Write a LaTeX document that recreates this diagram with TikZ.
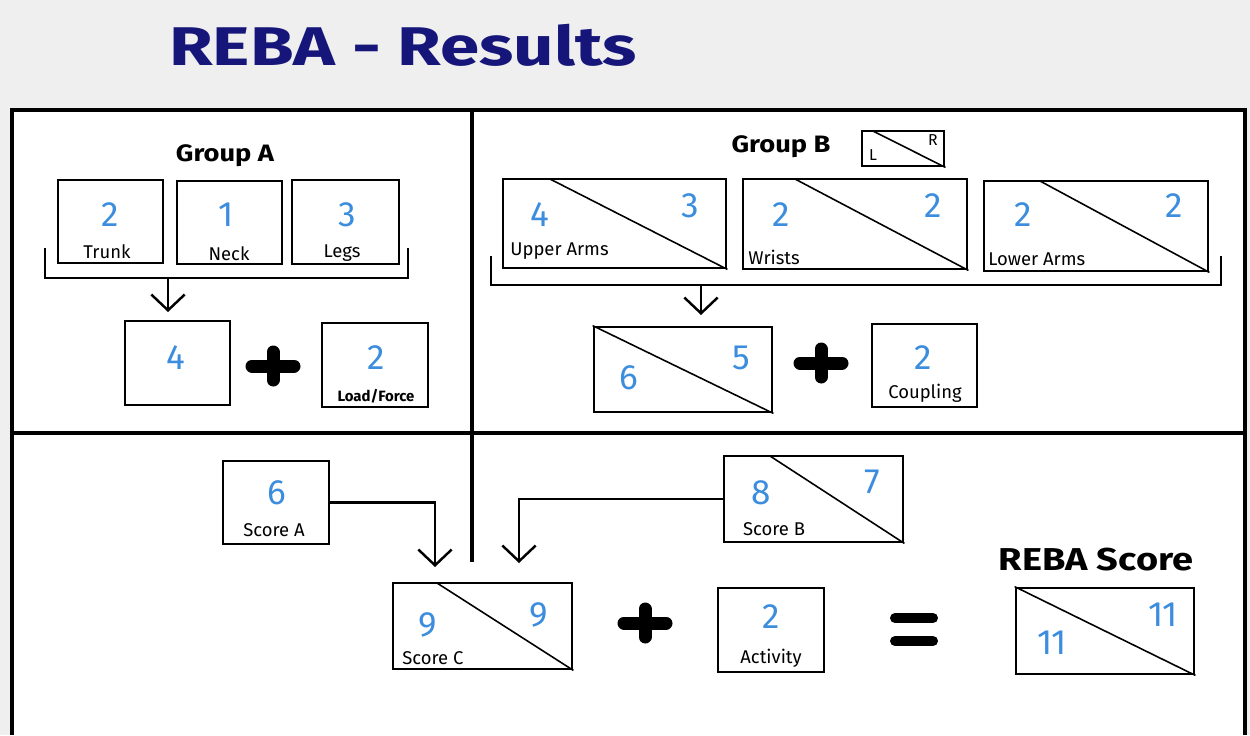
\documentclass[tikz,border=0pt]{standalone}
\usepackage{fontspec}
\setmainfont{Fira Sans}
\usetikzlibrary{arrows.meta,fit}
\definecolor{bgc}{HTML}{EFEFEF}
\definecolor{numc}{HTML}{3C8DDE}
\definecolor{navy}{HTML}{16167A}
\begin{document}
\begin{tikzpicture}[x=0.02cm,y=-0.02cm,
 box/.style={draw, line width=1.6pt, inner sep=0pt},
 num/.style={text=numc, font=\fontsize{20}{24}\selectfont, inner sep=0pt},
 lbl/.style={font=\fontsize{10.5}{12}\selectfont, inner sep=0pt},
 small/.style={font=\bfseries\fontsize{8.5}{10}\selectfont, inner sep=0pt},
 diag/.style={line width=0.9pt},
 frame/.style={line width=2.8pt},
 plusbar/.style={line width=7.4pt, line cap=round},
 arr/.style={line width=1.4pt, -{Straight Barb[length=9pt,width=19pt]}},
 brk/.style={line width=1.6pt},
 head/.style={font=\bfseries\fontsize{13.5}{15}\selectfont, inner sep=0pt, xscale=1.15, transform shape}]
\useasboundingbox (0,0) rectangle (1250,735);
\fill[bgc] (0,0) rectangle (1250,735);
\fill[white] (12,110) rectangle (1245,735);
\draw[frame] (12,735) -- (12,110) -- (1245,110) -- (1245,735);
\draw[frame] (12,433) -- (1245,433);
\draw[frame] (472,110) -- (472,562);

\node[font=\bfseries\fontsize{31}{36}\selectfont, text=navy, xscale=1.3, transform shape] (title) at (403,45) {REBA - Results};

% Group A
\node[head] (ga) at (225,156) {Group A};
\node[box, fit={(58,180)(163,263)}] (trunk) {};
\node[num] (trunkn) at (110,215) {2};
\node[lbl] (trunkl) at (107,252) {Trunk};
\node[box, fit={(177,181)(282,264)}] (neck) {};
\node[num] (neckn) at (226,215) {1};
\node[lbl] (neckl) at (229,254) {Neck};
\node[box, fit={(292,180)(399,264)}] (legs) {};
\node[num] (legsn) at (347,215) {3};
\node[lbl] (legsl) at (342,253) {Legs};
\coordinate (bA1) at (45,248); \coordinate (bA2) at (45,278);
\coordinate (bA3) at (408,278); \coordinate (bA4) at (408,248);
\draw[brk] (bA1) -- (bA2) -- (bA3) -- (bA4);
\coordinate (bAm) at (168,278); \coordinate (aA) at (168,312);
\draw[arr] (bAm) -- (aA);
\node[box, fit={(125,321)(230,405)}] (sumA) {};
\node[num] (sumAn) at (176,358) {4};
\draw[plusbar] (252,366) -- (294,366) (273,352) -- (273,380);
\node[box, fit={(322,323)(428,407)}] (load) {};
\node[num] (loadn) at (376,358) {2};
\node[small] (loadl) at (376,396) {Load/Force};

% Group B
\node[head] (gb) at (781,147) {Group B};
\node[box, fit={(862,131)(944,166)}] (lr) {};
\draw[diag] (873,131) -- (lr.south east);
\node[small, font=\fontsize{9}{10}\selectfont] (lrl) at (873,155) {L};
\node[small, font=\fontsize{9}{10}\selectfont] (lrr) at (933,140) {R};

\node[box, fit={(503,179)(726,268)}] (ua) {};
\draw[diag] (550,179) -- (ua.south east);
\node[num] (uan1) at (540,215) {4};
\node[num] (uan2) at (690,206) {3};
\node[lbl, anchor=west] (ual) at (510,251) {Upper Arms};

\node[box, fit={(743,179)(967,269)}] (wr) {};
\draw[diag] (795,179) -- (wr.south east);
\node[num] (wrn1) at (781,215) {2};
\node[num] (wrn2) at (933,206) {2};
\node[lbl, anchor=west] (wrl) at (748,257) {Wrists};

\node[box, fit={(984,181)(1208,271)}] (la) {};
\draw[diag] (1040,181) -- (la.south east);
\node[num] (lan1) at (1023,215) {2};
\node[num] (lan2) at (1174,206) {2};
\node[lbl, anchor=west] (lal) at (988,259) {Lower Arms};

\coordinate (bB1) at (491,256); \coordinate (bB2) at (491,285);
\coordinate (bB3) at (1221,285); \coordinate (bB4) at (1221,256);
\draw[brk] (bB1) -- (bB2) -- (bB3) -- (bB4);
\coordinate (bBm) at (701,285); \coordinate (aB) at (701,315);
\draw[arr] (bBm) -- (aB);

\node[box, fit={(594,327)(772,412)}] (sumB) {};
\draw[diag] (sumB.north west) -- (sumB.south east);
\node[num] (sumBn1) at (629,378) {6};
\node[num] (sumBn2) at (741,358) {5};
\draw[plusbar] (800,363) -- (842,363) (821,349) -- (821,377);
\node[box, fit={(872,324)(977,407)}] (coup) {};
\node[num] (coupn) at (923,358) {2};
\node[lbl] (coupl) at (925,393) {Coupling};

% Bottom
\node[box, fit={(223,461)(329,544)}] (scoreA) {};
\node[num] (scoreAn) at (277,493) {6};
\node[lbl] (scoreAl) at (274,530) {Score A};

\node[box, fit={(724,456)(903,542)}] (scoreB) {};
\draw[diag] (770,456) -- (scoreB.south east);
\node[num] (scoreBn1) at (761,493) {8};
\node[num] (scoreBn2) at (872,482) {7};
\node[lbl] (scoreBl) at (774,529) {Score B};

\node[box, fit={(393,583)(572,669)}] (scoreC) {};
\draw[diag] (437,583) -- (scoreC.south east);
\node[num] (scoreCn1) at (428,625) {9};
\node[num] (scoreCn2) at (539,615) {9};
\node[lbl, anchor=west] (scoreCl) at (402,658) {Score C};

\coordinate (cA) at (435,567);
\coordinate (cB) at (519,563);
\draw[arr] (scoreA.east) -| (cA);
\draw[arr] (scoreB.west) -| (cB);

\draw[plusbar] (624,623) -- (666,623) (645,609) -- (645,637);
\node[box, fit={(718,588)(824,672)}] (act) {};
\node[num] (actn) at (771,617) {2};
\node[lbl] (actl) at (771,658) {Activity};

\draw[line width=5.7pt, line cap=round] (895,618) -- (933,618) (895,641) -- (933,641);

\node[font=\bfseries\fontsize{18}{21}\selectfont, inner sep=0pt, xscale=1.2, transform shape] (rebal) at (1096,560) {REBA Score};
\node[box, fit={(1016,588)(1194,674)}] (reba) {};
\draw[diag] (reba.north west) -- (reba.south east);
\node[num] (reban1) at (1052,643) {11};
\node[num] (reban2) at (1163,615) {11};
\end{tikzpicture}
\end{document}
